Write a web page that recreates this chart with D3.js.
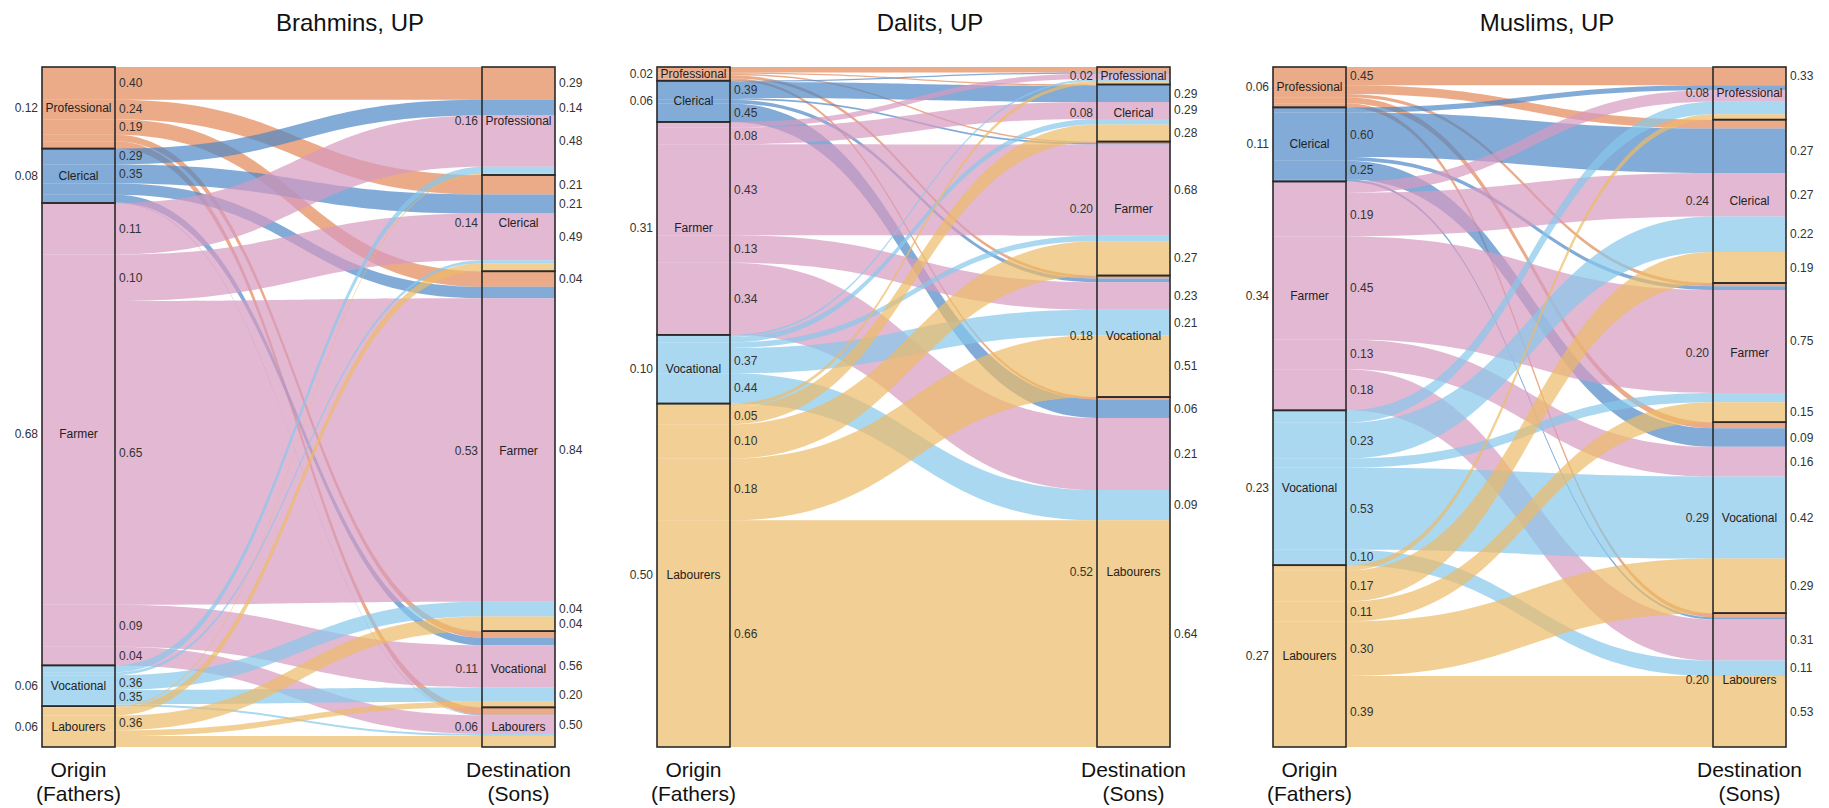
<!DOCTYPE html>
<html><head><meta charset="utf-8">
<script src="https://cdn.jsdelivr.net/npm/d3@7"></script>
<style>
body{margin:0;background:#fff}
svg{display:block}
text{font-family:"Liberation Sans",Arial,Helvetica,sans-serif}
</style>
</head><body>
<svg id="chart" width="1829" height="808"></svg>
<script>
// ---------- DATA ----------
const categories = ["Professional", "Clerical", "Farmer", "Vocational", "Labourers"];
const panelTitles = ["Brahmins, UP", "Dalits, UP", "Muslims, UP"];
const axisTitles = [["Origin", "(Fathers)"], ["Destination", "(Sons)"]];

// Brahmins: origin shares, destination shares, outflow rates (row = father's class), inflow labels (row = son's class)
const brahminsOrigin = [0.12, 0.08, 0.68, 0.06, 0.06];
const brahminsDest = [0.16, 0.14, 0.53, 0.11, 0.06];
const brahminsOut = [
  [0.40, 0.24, 0.19, 0.08, 0.09],
  [0.29, 0.35, 0.21, 0.14, 0.01],
  [0.11, 0.10, 0.65, 0.09, 0.04],
  [0.17, 0.07, 0.36, 0.35, 0.05],
  [0.03, 0.20, 0.36, 0.14, 0.27]
];
const brahminsIn = [
  [0.29, 0.14, 0.48, null, null],
  [0.21, 0.21, 0.49, null, null],
  [0.04, null, 0.84, 0.04, 0.04],
  [null, null, 0.56, 0.20, null],
  [null, null, 0.50, null, null]
];

// Dalits
const dalitsOrigin = [0.02, 0.06, 0.31, 0.10, 0.50];
const dalitsDest = [0.02, 0.08, 0.20, 0.18, 0.52];
const dalitsOut = [
  [0.40, 0.10, 0.10, 0.22, 0.18],
  [0.03, 0.39, 0.04, 0.09, 0.45],
  [0.025, 0.08, 0.43, 0.13, 0.34],
  [0.03, 0.08, 0.08, 0.37, 0.44],
  [0.01, 0.05, 0.10, 0.18, 0.66]
];
const dalitsIn = [
  [null, null, null, null, null],
  [null, 0.29, 0.29, null, 0.28],
  [null, null, 0.68, null, 0.27],
  [null, null, 0.23, 0.21, 0.51],
  [null, 0.06, 0.21, 0.09, 0.64]
];

// Muslims
const muslimsOrigin = [0.06, 0.11, 0.34, 0.23, 0.27];
const muslimsDest = [0.08, 0.24, 0.20, 0.29, 0.20];
const muslimsOut = [
  [0.45, 0.22, 0.08, 0.15, 0.10],
  [0.07, 0.60, 0.05, 0.25, 0.03],
  [0.05, 0.19, 0.45, 0.13, 0.18],
  [0.08, 0.23, 0.06, 0.53, 0.10],
  [0.03, 0.17, 0.11, 0.30, 0.39]
];
const muslimsIn = [
  [0.33, null, null, null, null],
  [null, 0.27, 0.27, 0.22, 0.19],
  [null, null, 0.75, null, 0.15],
  [null, 0.09, 0.16, 0.42, 0.29],
  [null, null, 0.31, 0.11, 0.53]
];

const labelThreshold = 0.02;

// ---------- DRAWING ----------
const panels = [
  {title: panelTitles[0], origin: brahminsOrigin, dest: brahminsDest, out: brahminsOut, inLab: brahminsIn, left: 42,   titleX: 350},
  {title: panelTitles[1], origin: dalitsOrigin,   dest: dalitsDest,   out: dalitsOut,   inLab: dalitsIn,   left: 657,  titleX: 930},
  {title: panelTitles[2], origin: muslimsOrigin,  dest: muslimsDest,  out: muslimsOut,  inLab: muslimsIn,  left: 1273, titleX: 1547}
];

const color = d3.scaleOrdinal().domain(categories)
  .range(["#E28855", "#4E88C6", "#D79AC0", "#87C7EB", "#ECBA66"]);
const fmt = d3.format(".2f");
const boxW = 73, gapX = 440;
const svg = d3.select("#chart");
const TXT = "#333";

panels.forEach(p => {
  const n = categories.length;
  const flows = [];
  const rowSum = p.out.map(r => d3.sum(r));
  const F = p.out.map((r, i) => r.map(v => p.origin[i] * v / rowSum[i]));
  const destTot = categories.map((_, j) => d3.sum(F, r => r[j]));
  const total = d3.sum(p.origin);

  const y = d3.scaleLinear().domain([0, total]).range([67, 747]);
  const x = d3.scaleLinear().domain([0, 1]).range([p.left, p.left + gapX]);
  const oL = x(0), oR = x(0) + boxW, dL = x(1), dR = x(1) + boxW;
  const xm = (oR + dL) / 2;

  const oStart = d3.cumsum([0, ...p.origin]);
  const dStart = d3.cumsum([0, ...destTot]);

  // within origin: ordered by destination; within destination: ordered by origin
  for (let i = 0; i < n; i++) {
    let o = oStart[i];
    for (let j = 0; j < n; j++) {
      const f = F[i][j];
      let dPos = dStart[j];
      for (let k = 0; k < i; k++) dPos += F[k][j];
      flows.push({i, j, f, o0: o, o1: o + f, d0: dPos, d1: dPos + f});
      o += f;
    }
  }

  const g = svg.append("g");

  g.selectAll("path.flow").data(flows).join("path")
    .attr("class", "flow")
    .attr("fill", d => color(categories[d.i]))
    .attr("fill-opacity", 0.7)
    .attr("d", d => {
      const t0 = y(d.o0), b0 = y(d.o1), t1 = y(d.d0), b1 = y(d.d1);
      return `M${oL},${t0}H${oR}C${xm},${t0} ${xm},${t1} ${dL},${t1}H${dR}V${b1}H${dL}` +
             `C${xm},${b1} ${xm},${b0} ${oR},${b0}H${oL}Z`;
    });

  // strata boxes
  const oBoxes = categories.map((c, i) => ({c, a: oStart[i], b: oStart[i + 1], share: p.origin[i]}));
  const dBoxes = categories.map((c, j) => ({c, a: dStart[j], b: dStart[j + 1], share: p.dest[j]}));

  [[oBoxes, oL], [dBoxes, dL]].forEach(([boxes, bx]) => {
    g.selectAll(null).data(boxes).join("rect")
      .attr("x", bx).attr("y", d => y(d.a))
      .attr("width", boxW).attr("height", d => y(d.b) - y(d.a))
      .attr("fill", "none").attr("stroke", "#2a2a2a").attr("stroke-width", 1.6);
    g.selectAll(null).data(boxes).join("text")
      .attr("x", bx + boxW / 2).attr("y", d => (y(d.a) + y(d.b)) / 2)
      .attr("text-anchor", "middle").attr("dominant-baseline", "central")
      .attr("font-size", 12).attr("fill", "#222")
      .text(d => d.c);
    g.selectAll(null).data(boxes).join("text")
      .attr("x", bx - 4).attr("y", d => (y(d.a) + y(d.b)) / 2)
      .attr("text-anchor", "end").attr("dominant-baseline", "central")
      .attr("font-size", 12).attr("fill", TXT)
      .text(d => fmt(d.share));
  });

  // outflow labels
  g.selectAll(null).data(flows.filter(d => d.f >= labelThreshold)).join("text")
    .attr("x", oR + 4).attr("y", d => (y(d.o0) + y(d.o1)) / 2)
    .attr("dominant-baseline", "central").attr("font-size", 12).attr("fill", TXT)
    .text(d => fmt(p.out[d.i][d.j]));

  // inflow labels
  g.selectAll(null).data(flows.filter(d => p.inLab[d.j][d.i] != null)).join("text")
    .attr("x", dR + 4).attr("y", d => (y(d.d0) + y(d.d1)) / 2)
    .attr("dominant-baseline", "central").attr("font-size", 12).attr("fill", TXT)
    .text(d => fmt(p.inLab[d.j][d.i]));

  // title
  g.append("text").attr("x", p.titleX).attr("y", 31)
    .attr("text-anchor", "middle").attr("font-size", 24).attr("fill", "#111")
    .text(p.title);

  // axis titles
  [[oL, axisTitles[0]], [dL, axisTitles[1]]].forEach(([bx, lines]) => {
    lines.forEach((t, k) => {
      g.append("text").attr("x", bx + boxW / 2).attr("y", 777 + k * 24)
        .attr("text-anchor", "middle").attr("font-size", 21).attr("fill", "#111")
        .text(t);
    });
  });
});
</script>
</body></html>
